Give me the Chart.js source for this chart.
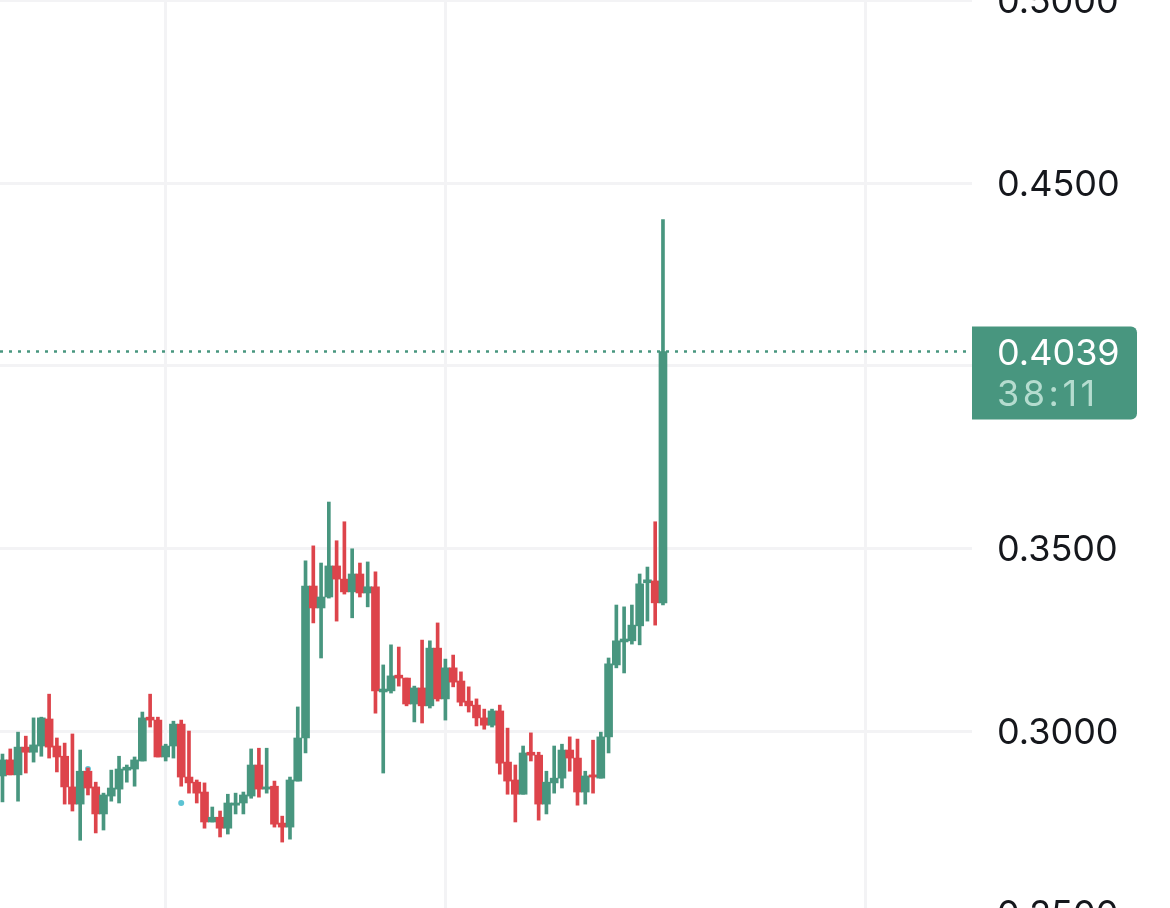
<!DOCTYPE html>
<html>
<head>
<meta charset="utf-8">
<title>Candles</title>
<script src="https://cdn.jsdelivr.net/npm/chart.js@4"></script>
<style>
  html, body { margin: 0; padding: 0; background: #fff; overflow: hidden; width: 1170px; height: 908px; }
  #chart { position: absolute; left: 0; top: -40px; }
</style>
</head>
<body>
<canvas id="chart" width="1170" height="988"></canvas>
<script>
const opens = [
  .2877,.2921,.2880,.2956,.2942,.2959,.3033,.2959,.2931,.2847,
  .2800,.2890,.2847,.2773,.2822,.2841,.2893,.2896,.2918,.3038,
  .3030,.2929,.2959,.3019,.2874,.2860,.2833,.2751,.2764,.2734,
  .2797,.2803,.2822,.2907,.2841,.2849,.2748,.2737,.2863,.2981,
  .3397,.3337,.3367,.3452,.3416,.3381,.3430,.3378,.3395,.3107,
  .3110,.3153,.3145,.3074,.3118,.3069,.3227,.3088,.3173,.3137,
  .3082,.3071,.3036,.3016,.3055,.2915,.2866,.2827,.2942,.2934,
  .2800,.2858,.2871,.2948,.2926,.2833,.2880,.2871,.2984,.3181,
  .3244,.3247,.3288,.3406,.3411,.3351
];
const closes = [
  .2921,.2880,.2956,.2942,.2962,.3036,.2956,.2929,.2847,.2800,
  .2890,.2844,.2773,.2825,.2844,.2896,.2901,.2921,.3036,.3030,
  .2929,.2959,.3019,.2874,.2858,.2830,.2751,.2764,.2734,.2803,
  .2803,.2825,.2907,.2841,.2847,.2745,.2737,.2866,.2981,.3397,
  .3337,.3367,.3452,.3416,.3381,.3430,.3378,.3395,.3110,.3115,
  .3151,.3145,.3074,.3118,.3069,.3227,.3088,.3173,.3134,.3079,
  .3069,.3036,.3016,.3055,.2912,.2863,.2827,.2940,.2934,.2800,
  .2860,.2871,.2948,.2926,.2833,.2877,.2874,.2984,.3184,.3247,
  .3252,.3290,.3403,.3414,.3351,.4039
];
const highs = [
  .2937,.2951,.2997,.2986,.3036,.3038,.3101,.2981,.2967,.2992,
  .2948,.2899,.2860,.2830,.2893,.2931,.2907,.2929,.3052,.3101,
  .3038,.2964,.3027,.3030,.3000,.2866,.2858,.2792,.2781,.2827,
  .2830,.2833,.2951,.2953,.2953,.2863,.2767,.2874,.3066,.3466,
  .3507,.3460,.3627,.3521,.3573,.3499,.3460,.3463,.3436,.3181,
  .3236,.3230,.3145,.3123,.3249,.3247,.3296,.3197,.3208,.3162,
  .3121,.3088,.3060,.3060,.3071,.3008,.2907,.2959,.2995,.2942,
  .2890,.2959,.2964,.2984,.2978,.2890,.2975,.2997,.3200,.3345,
  .3340,.3345,.3430,.3449,.3573,.4400
];
const lows = [
  .2806,.2880,.2808,.2885,.2915,.2931,.2926,.2888,.2800,.2781,
  .2701,.2825,.2721,.2729,.2808,.2803,.2860,.2849,.2918,.3011,
  .2929,.2918,.2926,.2849,.2830,.2803,.2734,.2751,.2710,.2718,
  .2773,.2773,.2816,.2819,.2830,.2737,.2696,.2704,.2863,.2940,
  .3296,.3200,.3364,.3301,.3375,.3310,.3367,.3340,.3049,.2885,
  .3104,.3123,.3069,.3025,.3022,.3063,.3082,.3030,.3121,.3069,
  .3052,.3014,.3005,.3011,.2882,.2827,.2751,.2827,.2918,.2756,
  .2773,.2830,.2844,.2890,.2797,.2800,.2830,.2871,.2940,.3173,
  .3159,.3238,.3236,.3301,.3290,.3345
];
const priceTicks = [0.25, 0.30, 0.35, 0.40, 0.45, 0.50];
const timeGrid = [21, 57, 111];
const signalCandles = [11, 23];
const signalPrices = [0.2896, 0.2803];
const lastPrice = 0.4039;
const countdown = '38:11';

const GREEN = '#48967f';
const RED = '#dd444b';
const GRID = '#f3f3f5';
const TEXT = '#15171c';
const FONT = 'Inter, sans-serif';

const xMin = -0.32, xMax = 124.77;

const candleColors = opens.map((o, i) => closes[i] >= o ? GREEN : RED);

// draws the last price tag over the axis
const priceTag = {
  id: 'priceTag',
  afterDraw(chart) {
    const ctx = chart.ctx;
    const y = chart.scales.y.getPixelForValue(lastPrice);
    const left = chart.chartArea.right;
    ctx.save();
    ctx.fillStyle = GREEN;
    ctx.beginPath();
    ctx.roundRect(left, y - 25, 165, 93, [0, 6, 6, 0]);
    ctx.fill();
    ctx.font = '36px ' + FONT;
    ctx.textAlign = 'left';
    ctx.textBaseline = 'middle';
    ctx.fillStyle = '#ffffff';
    ctx.fillText(lastPrice.toFixed(4), left + 25, y + 3);
    ctx.fillStyle = '#b5dccf';
    ctx.letterSpacing = '3.5px';
    ctx.fillText(countdown, left + 25, y + 44);
    ctx.restore();
  }
};

new Chart(document.getElementById('chart'), {
  data: {
    datasets: [
      {
        type: 'line',
        data: [{ x: xMin, y: lastPrice }, { x: xMax, y: lastPrice }],
        borderColor: GREEN,
        borderWidth: 2.6,
        borderDash: [3, 6],
        pointRadius: 0,
        order: 0
      },
      {
        type: 'bar',
        data: opens.map((o, i) => ({ x: i, y: [o, closes[i]] })),
        backgroundColor: candleColors,
        barThickness: 8,
        grouped: false,
        order: 1
      },
      {
        type: 'bar',
        data: lows.map((l, i) => ({ x: i, y: [l, highs[i]] })),
        backgroundColor: candleColors,
        barThickness: 3,
        grouped: false,
        order: 2
      },
      {
        type: 'line',
        data: signalCandles.map((c, i) => ({ x: c, y: signalPrices[i] })),
        showLine: false,
        pointRadius: 3,
        pointBackgroundColor: '#5cc3d3',
        pointBorderWidth: 0,
        order: 3
      }
    ]
  },
  options: {
    responsive: false,
    animation: false,
    events: [],
    layout: { padding: 0, autoPadding: false },
    plugins: { legend: { display: false }, tooltip: { enabled: false } },
    scales: {
      x: {
        type: 'linear',
        min: xMin,
        max: xMax,
        offset: false,
        afterBuildTicks: axis => { axis.ticks = timeGrid.map(v => ({ value: v })); },
        ticks: { display: false },
        border: { display: false },
        grid: { color: GRID, lineWidth: 3, drawTicks: false, offset: false }
      },
      y: {
        type: 'linear',
        position: 'right',
        min: 0.2406,
        max: 0.5111,
        afterBuildTicks: axis => { axis.ticks = priceTicks.map(v => ({ value: v })); },
        afterFit: axis => { axis.width = 198; axis.paddingTop = 0; axis.paddingBottom = 0; },
        ticks: {
          padding: 25,
          labelOffset: 2,
          color: TEXT,
          font: { family: FONT, size: 36 },
          callback: v => v.toFixed(4)
        },
        border: { display: false },
        grid: { color: GRID, lineWidth: 3, drawTicks: false }
      }
    }
  },
  plugins: [priceTag]
});
</script>
</body>
</html>
